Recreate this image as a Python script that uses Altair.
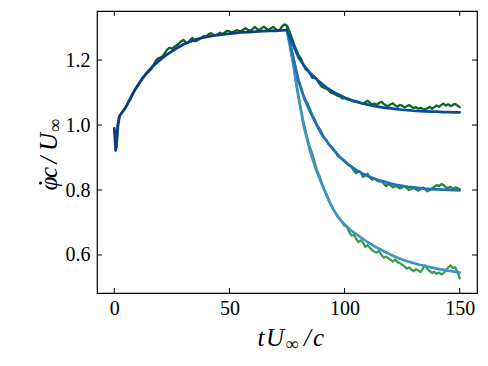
import altair as alt
import pandas as pd

# ---------------- data ----------------
# smooth (model) curves, blue
t_blue_common = [0, 0.6, 1.5, 2.5, 5, 7.5, 10, 12.5, 15, 17.5, 20, 22.5, 25, 27.5, 30,
                 32.5, 35, 37.5, 40, 42.5, 45, 47.5, 50, 52.5, 55, 57.5, 60, 62.5,
                 65, 67.5, 70, 72.5, 75]
phi_blue_common = [0.99, 0.922, 1.0, 1.03, 1.055, 1.09, 1.12, 1.147, 1.168, 1.186, 1.201,
                   1.215, 1.227, 1.238, 1.248, 1.256, 1.262, 1.267, 1.271, 1.274, 1.277,
                   1.279, 1.281, 1.283, 1.285, 1.286, 1.287, 1.288, 1.289, 1.290, 1.290,
                   1.291, 1.292]

t_blue_branch = [75, 77.5, 80, 82.5, 85, 87.5, 90, 92.5, 95, 97.5, 100, 102.5, 105, 107.5,
                 110, 112.5, 115, 117.5, 120, 122.5, 125, 127.5, 130, 132.5, 135, 137.5,
                 140, 142.5, 145, 147.5, 150]
phi_blue_high = [1.292, 1.250, 1.208, 1.182, 1.160, 1.143, 1.128, 1.114, 1.102, 1.093, 1.085,
                 1.078, 1.072, 1.067, 1.063, 1.059, 1.056, 1.053, 1.051, 1.049, 1.047,
                 1.046, 1.044, 1.043, 1.042, 1.041, 1.041, 1.040, 1.040, 1.039, 1.039]
phi_blue_mid = [1.292, 1.215, 1.135, 1.082, 1.042, 1.005, 0.972, 0.948, 0.925, 0.905, 0.888,
                0.874, 0.862, 0.852, 0.843, 0.836, 0.830, 0.825, 0.820, 0.816, 0.813,
                0.810, 0.808, 0.806, 0.804, 0.803, 0.802, 0.801, 0.800, 0.7995, 0.799]
phi_blue_low = [1.292, 1.195, 1.085, 0.990, 0.920, 0.865, 0.820, 0.778, 0.742, 0.714, 0.694,
                0.677, 0.664, 0.652, 0.640, 0.629, 0.619, 0.610, 0.601, 0.593, 0.586,
                0.580, 0.575, 0.570, 0.566, 0.562, 0.558, 0.555, 0.552, 0.549, 0.546]

# measured (noisy) curves, green
t_green_common = list(range(0, 76))
phi_green_common = [0.985, 0.93, 1.025, 1.035, 1.045, 1.055, 1.068, 1.078, 1.095, 1.11,
                    1.118, 1.13, 1.14, 1.15, 1.158, 1.165, 1.172, 1.185, 1.198, 1.205,
                    1.208, 1.212, 1.222, 1.232, 1.238, 1.235, 1.24, 1.245, 1.25, 1.258,
                    1.262, 1.255, 1.252, 1.262, 1.268, 1.258, 1.26, 1.265, 1.27, 1.274,
                    1.272, 1.28, 1.283, 1.278, 1.276, 1.28, 1.284, 1.28, 1.285, 1.29,
                    1.288, 1.285, 1.287, 1.292, 1.29, 1.288, 1.294, 1.298, 1.293, 1.29,
                    1.295, 1.302, 1.296, 1.292, 1.298, 1.303, 1.297, 1.292, 1.298, 1.302,
                    1.296, 1.291, 1.294, 1.305, 1.31, 1.305]

t_green_branch = list(range(75, 151))
phi_green_high = [1.305, 1.29, 1.27, 1.25, 1.232, 1.215, 1.205, 1.188, 1.172, 1.168, 1.158,
                  1.145, 1.148, 1.14, 1.128, 1.118, 1.115, 1.112, 1.108, 1.1, 1.098,
                  1.094, 1.09, 1.088, 1.082, 1.083, 1.079, 1.078, 1.076, 1.072, 1.074,
                  1.07, 1.068, 1.065, 1.07, 1.075, 1.068, 1.064, 1.066, 1.062, 1.068,
                  1.072, 1.065, 1.06, 1.058, 1.064, 1.067, 1.06, 1.056, 1.062, 1.06,
                  1.054, 1.058, 1.062, 1.056, 1.052, 1.055, 1.05, 1.053, 1.05, 1.048,
                  1.052, 1.056, 1.05, 1.055, 1.06, 1.056, 1.062, 1.066, 1.06, 1.064,
                  1.058, 1.062, 1.065, 1.06, 1.055]
phi_green_mid = [1.305, 1.26, 1.23, 1.2, 1.168, 1.14, 1.118, 1.095, 1.078, 1.065, 1.048,
                 1.03, 1.018, 1.0, 0.99, 0.978, 0.962, 0.955, 0.942, 0.935, 0.928,
                 0.918, 0.905, 0.9, 0.895, 0.89, 0.882, 0.875, 0.872, 0.86, 0.852,
                 0.858, 0.855, 0.84, 0.845, 0.85, 0.838, 0.832, 0.835, 0.83, 0.826,
                 0.828, 0.82, 0.812, 0.818, 0.815, 0.808, 0.812, 0.81, 0.805, 0.808,
                 0.812, 0.806, 0.80, 0.803, 0.807, 0.802, 0.798, 0.803, 0.808, 0.802,
                 0.796, 0.8, 0.805, 0.81, 0.815, 0.812, 0.818, 0.815, 0.808, 0.806,
                 0.81, 0.804, 0.808, 0.806, 0.802]
phi_green_low = [1.305, 1.265, 1.22, 1.18, 1.13, 1.09, 1.05, 1.012, 0.985, 0.955, 0.93,
                 0.912, 0.885, 0.862, 0.845, 0.825, 0.805, 0.79, 0.772, 0.755, 0.742,
                 0.73, 0.718, 0.712, 0.7, 0.69, 0.688, 0.67, 0.66, 0.662, 0.65,
                 0.64, 0.645, 0.638, 0.625, 0.63, 0.622, 0.615, 0.61, 0.608, 0.612,
                 0.6, 0.592, 0.595, 0.59, 0.585, 0.58, 0.586, 0.578, 0.575, 0.57,
                 0.565, 0.558, 0.562, 0.555, 0.55, 0.556, 0.552, 0.548, 0.558, 0.568,
                 0.556, 0.55, 0.545, 0.548, 0.542, 0.546, 0.54, 0.545, 0.552, 0.562,
                 0.568, 0.56, 0.562, 0.548, 0.528]

x_ticks = [0, 50, 100, 150]
y_ticks = [0.6, 0.8, 1.0, 1.2]

# ---------------- chart ----------------
W, H = 380, 282
FONT = "Liberation Serif"
xscale = alt.Scale(domain=[-7.5, 157.5], nice=False, zero=False)
yscale = alt.Scale(domain=[0.483, 1.351], nice=False, zero=False)

series = [
    ("green_low", t_green_branch, phi_green_low, "#3c9e4c", 2.3),
    ("green_mid", t_green_branch, phi_green_mid, "#258a3c", 2.3),
    ("green_high", t_green_branch, phi_green_high, "#0a6a2a", 2.3),
    ("green_common", t_green_common, phi_green_common, "#0a6228", 2.3),
    ("blue_low", t_blue_branch, phi_blue_low, "#4292c6", 2.7),
    ("blue_mid", t_blue_branch, phi_blue_mid, "#2171b5", 2.7),
    ("blue_high", t_blue_branch, phi_blue_high, "#0b4f9a", 2.7),
    ("blue_common", t_blue_common, phi_blue_common, "#0c3d80", 2.7),
]

layers = []
for name, ts, ys, col, sw in series:
    df = pd.DataFrame({"t": ts, "phi": ys})
    layers.append(
        alt.Chart(df).mark_line(color=col, strokeWidth=sw, strokeJoin="round", strokeCap="round").encode(
            x=alt.X("t:Q", scale=xscale,
                    axis=alt.Axis(values=x_ticks, format="d", title=None,
                                  ticks=False, domain=False, grid=False,
                                  labelFont=FONT, labelFontSize=20, labelColor="black",
                                  labelPadding=5)),
            y=alt.Y("phi:Q", scale=yscale,
                    axis=alt.Axis(values=y_ticks, format=".1f", title=None,
                                  ticks=False, domain=False, grid=False,
                                  labelFont=FONT, labelFontSize=20, labelColor="black",
                                  labelPadding=7)),
        )
    )

xt = pd.DataFrame({"v": x_ticks})
yt = pd.DataFrame({"v": y_ticks})
tick_style = dict(color="black", strokeWidth=1)
ticks = [
    alt.Chart(xt).mark_rule(**tick_style).encode(x=alt.X("v:Q", scale=xscale), y=alt.value(H), y2=alt.value(H - 5)),
    alt.Chart(xt).mark_rule(**tick_style).encode(x=alt.X("v:Q", scale=xscale), y=alt.value(0), y2=alt.value(5)),
    alt.Chart(yt).mark_rule(**tick_style).encode(y=alt.Y("v:Q", scale=yscale), x=alt.value(0), x2=alt.value(5)),
    alt.Chart(yt).mark_rule(**tick_style).encode(y=alt.Y("v:Q", scale=yscale), x=alt.value(W), x2=alt.value(W - 5)),
]

# axis titles built from pieces so that U has a subscript infinity and phi a dot
one = pd.DataFrame({"k": [0]})
OX, OY = 97, 11  # page position of the plot area


def piece(txt, px, py, size, angle=0):
    return alt.Chart(one).mark_text(
        text=txt, font=FONT, fontSize=size, fontStyle="italic", color="black",
        align="center", baseline="alphabetic", angle=angle,
    ).encode(x=alt.value(px - OX), y=alt.value(py - OY))


MAIN, SUB = 25, 18
titles = [
    # x title: t U_inf / c
    piece("t", 261, 346, MAIN),
    piece("U", 275, 346, MAIN),
    piece("∞", 292.5, 350, SUB),
    piece("/", 307.5, 346, MAIN),
    piece("c", 318.5, 346, MAIN),
    # y title (rotated): phi-dot c / U_inf
    piece("φ", 57, 183.5, MAIN, 270),
    piece("c", 57, 172.5, MAIN, 270),
    piece("/", 57, 160, MAIN, 270),
    piece("U", 57, 142, MAIN, 270),
    piece("∞", 61, 125, SUB, 270),
]
dot = alt.Chart(one).mark_circle(color="black", opacity=1, size=9).encode(
    x=alt.value(40.5 - OX), y=alt.value(183 - OY))

chart = alt.layer(*layers, *ticks, *titles, dot).properties(
    width=W, height=H,
    autosize=alt.AutoSizeParams(type="none"),
    padding={"left": 89, "top": 3, "right": 3, "bottom": 65},
    background="white",
).configure_view(stroke="black", strokeWidth=1.2)

chart.save("out.html", embed_options={"renderer": "svg", "actions": False})
